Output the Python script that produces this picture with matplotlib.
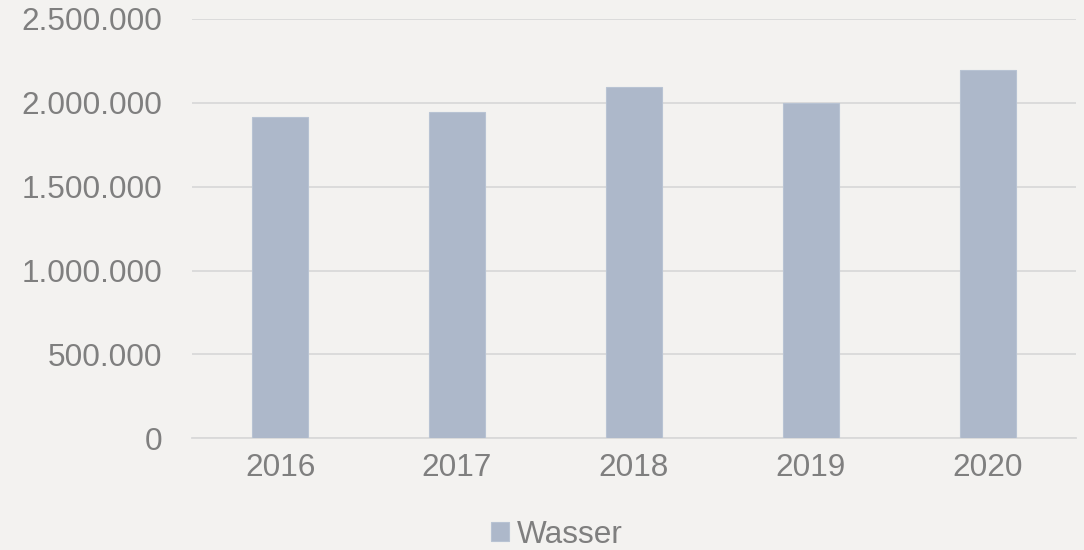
import matplotlib
matplotlib.use("Agg")
from matplotlib import pyplot as plt
from matplotlib.ticker import FuncFormatter

years = ["2016", "2017", "2018", "2019", "2020"]
wasser = [1913000, 1946000, 2094000, 1998000, 2195000]
yticks = [0, 500000, 1000000, 1500000, 2000000, 2500000]

bg = "#f3f2f0"
bar_color = "#adb8ca"
text_color = "#7f7f7f"
grid_color = "#d9d9d9"

plt.rcParams["font.family"] = ["Liberation Sans", "DejaVu Sans"]

fig = plt.figure(figsize=(10.84, 5.5), dpi=100, facecolor=bg)
ax = fig.add_axes([0.1768, 0.2031, 0.8161, 0.7627], facecolor=bg)

x = range(len(years))
ax.bar(x, wasser, width=0.316, color=bar_color, edgecolor="#b8c3d3", linewidth=0.8,
       zorder=3, label="Wasser")

ax.set_xlim(-0.5, len(years) - 0.5)
ax.set_ylim(0, 2500000)
ax.set_yticks(yticks)
ax.yaxis.set_major_formatter(FuncFormatter(lambda v, p: f"{int(v):,}".replace(",", ".")))
ax.set_xticks(list(x))
ax.set_xticklabels(years)

ax.grid(axis="y", color=grid_color, linewidth=1.3, zorder=0)
for s in ["top", "right", "left"]:
    ax.spines[s].set_visible(False)
ax.spines["bottom"].set_color(grid_color)
ax.spines["bottom"].set_linewidth(1.3)

ax.tick_params(axis="both", length=0, labelsize=22.7, colors=text_color)
ax.tick_params(axis="y", pad=21)
ax.tick_params(axis="x", pad=10.5)

fig.legend(loc="center", bbox_to_anchor=(557 / 1084, 1 - 535 / 550), frameon=False,
           fontsize=22.7, labelcolor=text_color, handlelength=0.55, handleheight=0.55,
           handletextpad=0.25, borderpad=0)

fig.savefig("out.png", dpi=100, facecolor=bg)
